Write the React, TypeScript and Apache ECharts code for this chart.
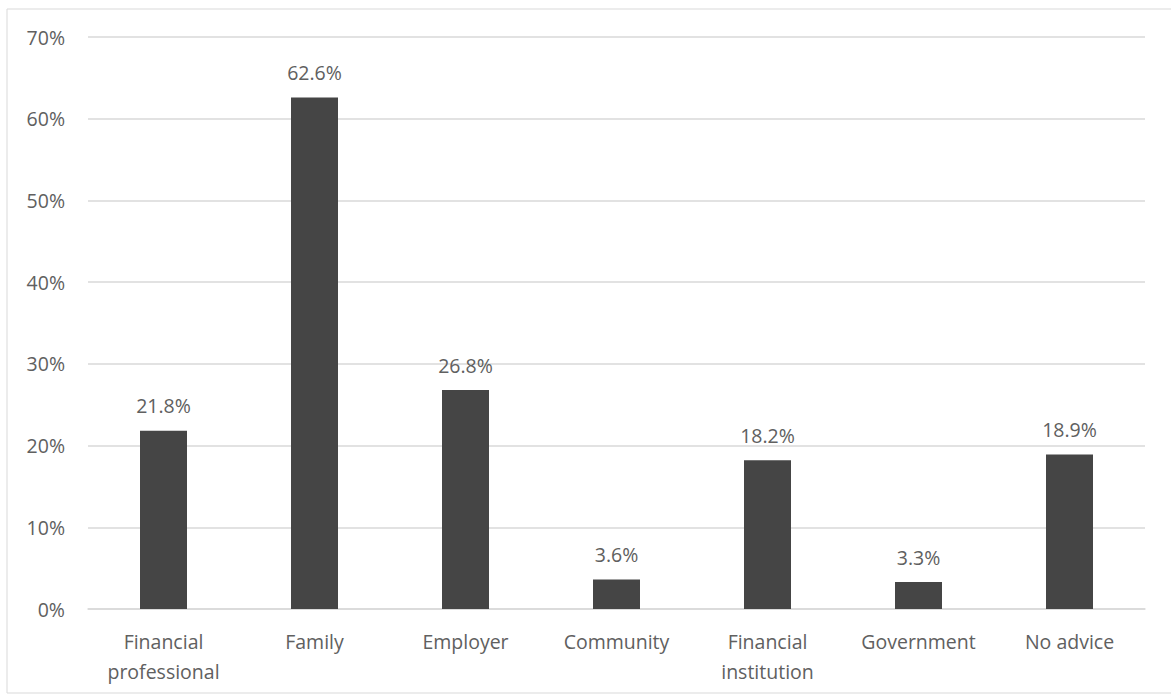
import React, { useEffect, useRef } from "react";
import * as echarts from "echarts";

const categories = [
  "Financial\nprofessional",
  "Family",
  "Employer",
  "Community",
  "Financial\ninstitution",
  "Government",
  "No advice",
];
const values = [21.8, 62.6, 26.8, 3.6, 18.2, 3.3, 18.9];
const yTicks = { min: 0, max: 70, interval: 10 };

export default function App() {
  const ref = useRef<HTMLDivElement>(null);
  useEffect(() => {
    const chart = echarts.init(ref.current!, null, { renderer: "svg" });
    const font = "'Open Sans', sans-serif";
    chart.setOption({
      animation: false,
      backgroundColor: "#ffffff",
      graphic: [
        {
          type: "rect",
          shape: { x: 7, y: 9, width: 1170, height: 684 },
          style: { fill: "none", stroke: "#d9d9d9", lineWidth: 1 },
          silent: true,
        },
      ],
      grid: { left: 88, right: 26, top: 37, bottom: 87 },
      xAxis: {
        type: "category",
        data: categories,
        axisLine: { show: true, lineStyle: { color: "#d9d9d9", width: 1.5 } },
        axisTick: { show: false },
        axisLabel: {
          color: "#606060",
          fontSize: 19.5,
          fontFamily: font,
          lineHeight: 30,
          margin: 17,
        },
      },
      yAxis: {
        type: "value",
        min: yTicks.min,
        max: yTicks.max,
        interval: yTicks.interval,
        axisLine: { show: false },
        axisTick: { show: false },
        splitLine: { lineStyle: { color: "#d9d9d9", width: 1.5 } },
        axisLabel: {
          color: "#606060",
          fontSize: 19.5,
          fontFamily: font,
          margin: 23,
          formatter: (v: number) => v + "%",
        },
      },
      series: [
        {
          type: "bar",
          data: values,
          barWidth: 47,
          itemStyle: { color: "#454545" },
          label: {
            show: true,
            position: "top",
            distance: 15,
            color: "#606060",
            fontSize: 19.5,
            fontFamily: font,
            formatter: (p: any) => p.value.toFixed(1) + "%",
          },
        },
      ],
    });
    return () => chart.dispose();
  }, []);
  return <div ref={ref} style={{ width: 1171, height: 696, position: "absolute", left: 0, top: 0 }} />;
}
